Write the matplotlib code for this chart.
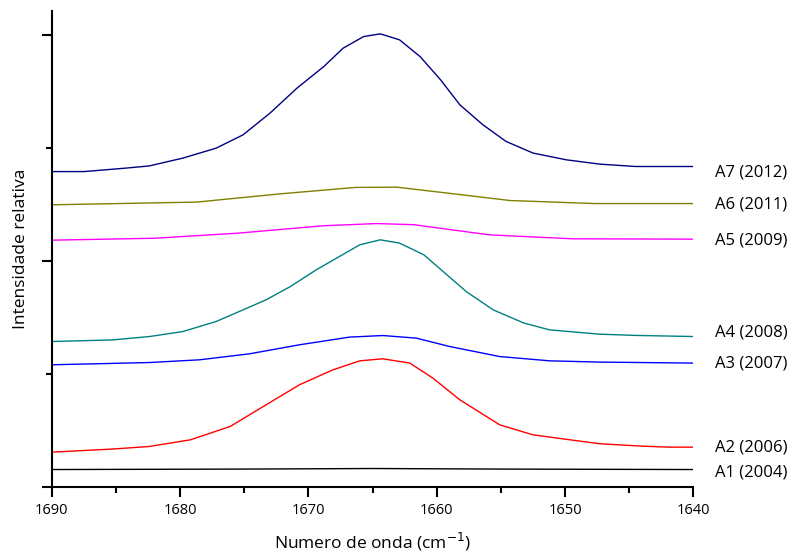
import matplotlib
matplotlib.use("Agg")
import matplotlib.pyplot as plt
import matplotlib.transforms as mtransforms
from matplotlib.ticker import MultipleLocator

plt.rcParams['font.family'] = ['Open Sans', 'DejaVu Sans']

# spectra (wavenumber, relative intensity with offset)
x_a7 = [1690, 1687.5, 1684.3, 1682.4, 1679.8, 1677.2, 1675.1, 1673.0, 1670.9, 1668.8,
        1667.3, 1665.7, 1664.4, 1662.9, 1661.3, 1659.7, 1658.2, 1656.4, 1654.6, 1652.5,
        1649.9, 1647.3, 1644.5, 1640]
y_a7 = [2.79, 2.79, 2.82, 2.84, 2.909, 2.997, 3.115, 3.307, 3.528, 3.72,
        3.882, 3.985, 4.009, 3.956, 3.808, 3.602, 3.381, 3.204, 3.057, 2.954,
        2.894, 2.856, 2.835, 2.835]

x_a6 = [1690, 1678.7, 1672.2, 1666.3, 1663.1, 1659.2, 1654.3, 1647.7, 1640]
y_a6 = [2.496, 2.52, 2.593, 2.65, 2.652, 2.60, 2.534, 2.507, 2.507]

x_a5 = [1690, 1682.0, 1675.5, 1668.9, 1664.7, 1661.8, 1655.9, 1649.4, 1640]
y_a5 = [2.183, 2.20, 2.245, 2.31, 2.33, 2.32, 2.23, 2.195, 2.192]

x_a4 = [1690, 1685.3, 1682.4, 1679.8, 1677.2, 1675.1, 1673.3, 1671.4, 1669.4, 1667.5,
        1666.0, 1664.4, 1662.9, 1661.0, 1659.5, 1657.7, 1655.6, 1653.2, 1651.2, 1647.3,
        1644.5, 1640]
y_a4 = [1.286, 1.30, 1.33, 1.374, 1.463, 1.566, 1.655, 1.773, 1.92, 2.044,
        2.142, 2.186, 2.157, 2.053, 1.905, 1.728, 1.566, 1.449, 1.389, 1.351,
        1.34, 1.33]

x_a3 = [1690, 1682.4, 1678.5, 1674.6, 1670.7, 1666.8, 1664.2, 1661.6, 1659.0, 1655.1,
        1651.2, 1647.3, 1640]
y_a3 = [1.08, 1.10, 1.124, 1.177, 1.257, 1.325, 1.339, 1.316, 1.242, 1.153,
        1.115, 1.104, 1.095]

x_a2 = [1690, 1685.3, 1682.4, 1679.2, 1676.1, 1673.3, 1670.7, 1668.1, 1666.0, 1664.2,
        1662.1, 1660.3, 1658.2, 1655.1, 1652.5, 1647.3, 1644.0, 1641.9, 1640]
y_a2 = [0.307, 0.334, 0.357, 0.416, 0.534, 0.726, 0.903, 1.035, 1.115, 1.133,
        1.095, 0.962, 0.77, 0.549, 0.46, 0.381, 0.36, 0.351, 0.351]

x_a1 = [1690, 1675, 1665, 1655, 1640]
y_a1 = [0.153, 0.157, 0.162, 0.157, 0.153]

names = ["A1 (2004)", "A2 (2006)", "A3 (2007)", "A4 (2008)",
         "A5 (2009)", "A6 (2011)", "A7 (2012)"]
label_y = [0.124, 0.345, 1.088, 1.363, 2.177, 2.496, 2.779]
colors = ["#000000", "#ff0000", "#0000ff", "#008080", "#ff00ff", "#808000", "#000080"]

series = [(x_a1, y_a1), (x_a2, y_a2), (x_a3, y_a3), (x_a4, y_a4),
          (x_a5, y_a5), (x_a6, y_a6), (x_a7, y_a7)]

fig = plt.figure(figsize=(8.1, 5.57), dpi=100)
ax = fig.add_axes([0.064, 0.126, 0.792, 0.854])

for (xs, ys), c in zip(series, colors):
    ax.plot(xs, ys, color=c, lw=1.0, solid_joinstyle='round')

ax.set_xlim(1690, 1640)
ax.set_ylim(0, 4.21)

trans = mtransforms.blended_transform_factory(ax.transAxes, ax.transData)
for name, ly in zip(names, label_y):
    ax.text(1.034, ly, name, transform=trans, fontsize=12, va='center', ha='left')

ax.spines['top'].set_visible(False)
ax.spines['right'].set_visible(False)
ax.spines['left'].set_linewidth(1.5)
ax.spines['bottom'].set_linewidth(1.5)

ax.xaxis.set_major_locator(MultipleLocator(10))
ax.xaxis.set_minor_locator(MultipleLocator(5))
ax.yaxis.set_major_locator(MultipleLocator(2))
ax.yaxis.set_minor_locator(MultipleLocator(1))
ax.tick_params(which='major', direction='out', length=7, width=1.5)
ax.tick_params(which='minor', direction='out', length=4, width=1.5)
ax.set_yticklabels([])
ax.tick_params(axis='x', labelsize=10.5, pad=5)

ax.set_xlabel("Numero de onda (cm$^{-1}$)", fontsize=12.5, labelpad=9)
ax.set_ylabel("Intensidade relativa", fontsize=12.5, labelpad=6)

fig.savefig("out.png", dpi=100)
